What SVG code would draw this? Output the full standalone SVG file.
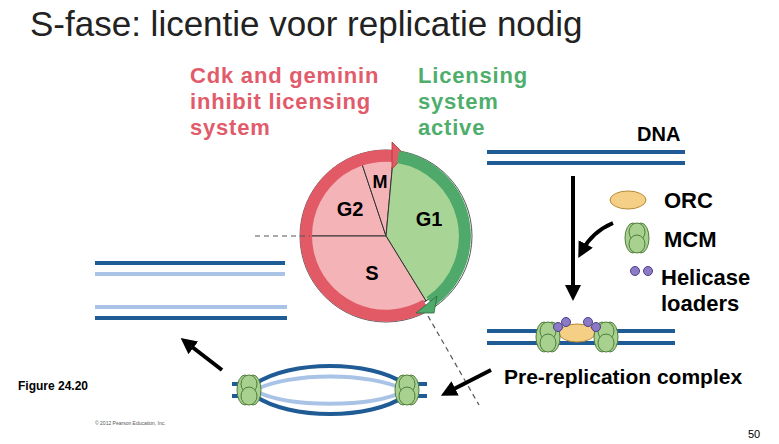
<svg xmlns="http://www.w3.org/2000/svg" width="779" height="444" viewBox="0 0 779 444">
<style>
.t{font-family:"Liberation Sans",Arial,sans-serif}
.b{font-family:"Liberation Sans",Arial,sans-serif;font-weight:bold}
.dk{stroke:#1f5b95;stroke-width:4;fill:none}
.lt{stroke:#a9c3e6;stroke-width:4;fill:none}
.ar{stroke:#000;stroke-width:4;fill:none}
.mcm{fill:#a8d18f;stroke:#4f7d3c;stroke-width:1}
.hl{fill:#8c7bc4;stroke:#4e3f8a;stroke-width:1}
.orc{fill:#f5cf85;stroke:#b58a3a;stroke-width:1}
</style>
<defs>
<marker id="ah" viewBox="0 0 10 10" refX="5" refY="5" markerWidth="4" markerHeight="4" orient="auto"><path d="M0,0 L10,5 L0,10 Z" fill="#000"/></marker>
<g id="mcmShape">
<ellipse class="mcm" cx="-4" cy="0" rx="8" ry="15"/>
<ellipse class="mcm" cx="4" cy="0" rx="8" ry="15"/>
<ellipse class="mcm" cx="0" cy="-6" rx="8" ry="9"/>
<ellipse class="mcm" cx="0" cy="6" rx="8" ry="9"/>
</g>
</defs>
<rect width="779" height="444" fill="#fff"/>
<text class="t" x="30" y="36" font-size="35" fill="#222">S-fase: licentie voor replicatie nodig</text>

<g id="labels">
<text class="b" font-size="22" fill="#e25b6b" letter-spacing="0.8"><tspan x="190" y="83">Cdk and geminin</tspan><tspan x="190" y="109">inhibit licensing</tspan><tspan x="190" y="135">system</tspan></text>
<text class="b" font-size="22" fill="#4fae6c" letter-spacing="0.8"><tspan x="418" y="83">Licensing</tspan><tspan x="418" y="109">system</tspan><tspan x="418" y="135">active</tspan></text>
</g>

<g id="cycle">
<path d="M386,236 L310,236 A76,76 0 0 1 362,164 Z" fill="#f3b3b7" stroke="#333" stroke-width="1"/>
<path d="M386,236 L362,164 A76,76 0 0 1 393,160 Z" fill="#f3b3b7" stroke="#333" stroke-width="1"/>
<path d="M386,236 L393,160 A76,76 0 0 1 426,301 Z" fill="#a8d595" stroke="#333" stroke-width="1"/>
<path d="M386,236 L426,301 A76,76 0 0 1 310,236 Z" fill="#f3b3b7" stroke="#333" stroke-width="1"/>
<circle cx="386" cy="236" r="86" fill="none" stroke="#555" stroke-width="1"/>
<path d="M426,305 A80,80 0 1 1 393,156" fill="none" stroke="#e35a67" stroke-width="12"/>
<path d="M392,142 L405,155 L392,169 Z" fill="#e35a67" stroke="#a33" stroke-width="0.8"/>
<path d="M398,157 A80,80 0 0 1 430,302" fill="none" stroke="#4fa96a" stroke-width="12"/>
<path d="M416,313 L434,313 L437,296 Z" fill="#4fa96a" stroke="#2b6a3e" stroke-width="0.8"/>
<text class="b" x="380" y="188" font-size="18" text-anchor="middle">M</text>
<text class="b" x="350" y="216" font-size="20" text-anchor="middle">G2</text>
<text class="b" x="429" y="226" font-size="20" text-anchor="middle">G1</text>
<text class="b" x="372" y="280" font-size="20" text-anchor="middle">S</text>
</g>

<g id="connectors">
<line x1="255" y1="236" x2="310" y2="236" stroke="#555" stroke-width="1.2" stroke-dasharray="5,4"/>
<line x1="428" y1="316" x2="479" y2="405" stroke="#555" stroke-width="1.2" stroke-dasharray="5,4"/>
<line class="ar" x1="573" y1="176" x2="573" y2="293" marker-end="url(#ah)"/>
<path class="ar" d="M613,223 Q592,232 582,251" stroke-width="3" marker-end="url(#ah)"/>
<line class="ar" x1="491" y1="370" x2="448" y2="392" marker-end="url(#ah)"/>
<line class="ar" x1="222" y1="370" x2="187" y2="343" marker-end="url(#ah)"/>
</g>

<g id="dna-top">
<line class="dk" x1="487" y1="152" x2="685" y2="152"/>
<line class="dk" x1="487" y1="163" x2="685" y2="163"/>
<text class="b" x="637" y="141" font-size="20">DNA</text>
</g>

<g id="legend">
<ellipse class="orc" cx="628" cy="200" rx="18" ry="9"/>
<text class="b" x="664" y="208" font-size="22">ORC</text>
<use href="#mcmShape" x="637" y="238"/>
<text class="b" x="664" y="247" font-size="22">MCM</text>
<circle class="hl" cx="635" cy="271" r="4.5"/>
<circle class="hl" cx="648" cy="271" r="4.5"/>
<text class="b" x="661" y="285" font-size="22">Helicase</text>
<text class="b" x="661" y="311" font-size="22">loaders</text>
</g>

<g id="pre-rep">
<line class="dk" x1="487" y1="331" x2="675" y2="331"/>
<line class="dk" x1="487" y1="343" x2="675" y2="343"/>
<ellipse class="orc" cx="577" cy="333" rx="18" ry="9"/>
<use href="#mcmShape" x="548" y="337"/>
<use href="#mcmShape" x="606" y="337"/>
<circle class="hl" cx="558" cy="327" r="4.5"/>
<circle class="hl" cx="566" cy="322" r="4.5"/>
<circle class="hl" cx="588" cy="322" r="4.5"/>
<circle class="hl" cx="596" cy="327" r="4.5"/>
<text class="b" x="504" y="384" font-size="21">Pre-replication complex</text>
</g>

<g id="replicated">
<line class="dk" x1="95" y1="263" x2="285" y2="263"/>
<line class="lt" x1="95" y1="274" x2="285" y2="274"/>
<line class="lt" x1="95" y1="307" x2="287" y2="307"/>
<line class="dk" x1="95" y1="318" x2="287" y2="318"/>
</g>

<g id="bubble">
<line class="dk" x1="232" y1="384" x2="260" y2="384"/>
<line class="dk" x1="232" y1="396" x2="260" y2="396"/>
<line class="dk" x1="398" y1="384" x2="427" y2="384"/>
<line class="dk" x1="398" y1="396" x2="427" y2="396"/>
<path class="dk" d="M255,384 C290,360 370,360 405,384"/>
<path class="lt" d="M255,390 C290,372 370,372 405,390"/>
<path class="lt" d="M255,391 C290,408 370,408 405,391"/>
<path class="dk" d="M255,396 C290,420 370,420 405,396"/>
<use href="#mcmShape" x="249" y="390"/>
<use href="#mcmShape" x="407" y="390"/>
</g>

<text class="b" x="18" y="390" font-size="12">Figure 24.20</text>
<text class="t" x="95" y="425" font-size="5" fill="#555">© 2012 Pearson Education, Inc.</text>
<text class="t" x="748" y="438" font-size="11">50</text>
</svg>
